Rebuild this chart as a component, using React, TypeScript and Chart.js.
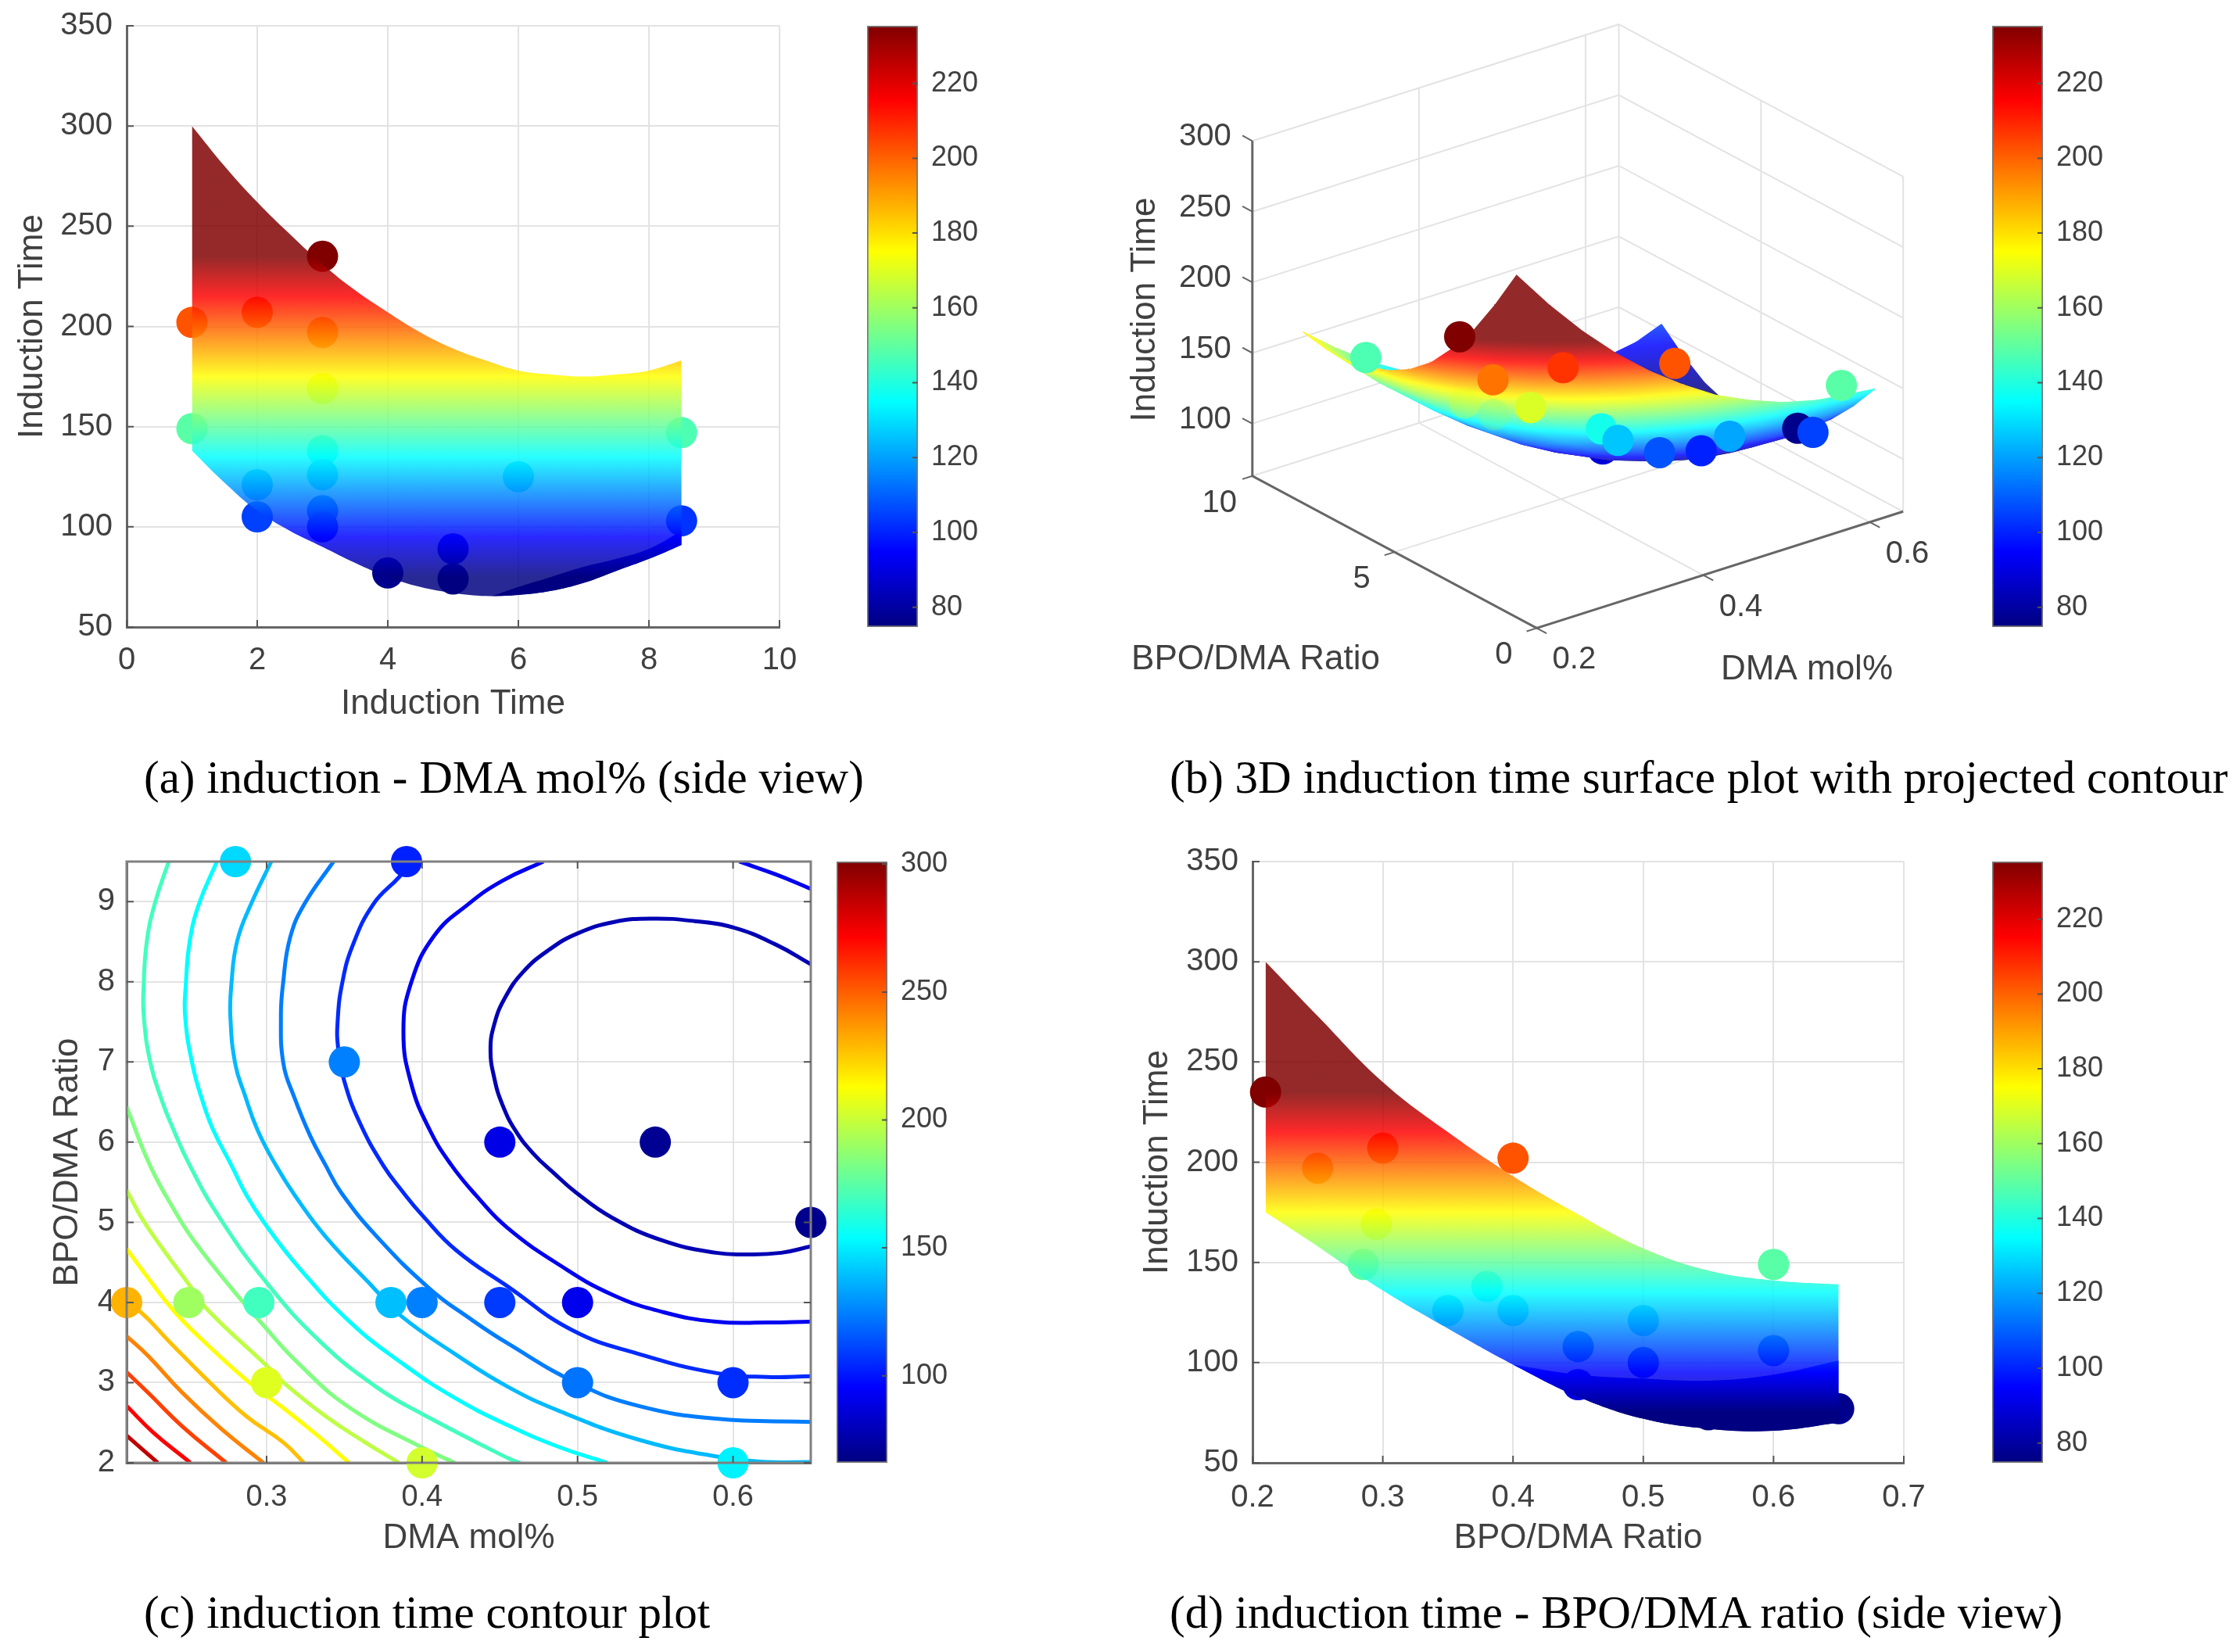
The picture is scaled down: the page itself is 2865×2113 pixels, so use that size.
import { useEffect, useRef } from "react";
import { Chart, registerables } from "chart.js";

Chart.register(...registerables);
Chart.defaults.font.family = '"Liberation Sans", Arial, sans-serif';

// (a) side view, time against ratio
const ratioA = [1, 1, 2, 2, 2, 3, 3, 3, 3, 3, 3, 3, 4, 5, 5, 6, 8.5, 8.5];
const timeA = [202, 149, 207, 121, 105, 235, 197, 169, 138, 126, 108, 100, 77, 89, 74, 125, 147, 103];
const surfaceXA = [1, 1.5, 2, 2.5, 3, 3.5, 4, 4.5, 5, 5.5, 6, 6.5, 7, 7.5, 8, 8.5];
const surfaceTopA = [300, 280, 262, 246, 231, 218, 207, 197, 189, 183, 178, 176, 175, 176, 178, 183];
const surfaceLowA = [138, 122, 108, 98, 90, 82, 75, 70, 67, 65.5, 66, 68, 72, 78, 84, 91];
const foldXA = [5.6, 6, 6.5, 7, 7.5, 8, 8.5];
const foldTopA = [65.5, 70, 75, 80, 84, 89, 98];
const foldLowA = [65.5, 66, 68, 72, 78, 84, 91];

// (d) side view, time against DMA
const dmaD = [0.21, 0.25, 0.3, 0.4, 0.295, 0.285, 0.38, 0.35, 0.4, 0.5, 0.45, 0.5, 0.6, 0.45, 0.55, 0.65, 0.6];
const timeD = [235, 197, 207, 202, 169, 149, 138, 126, 126, 121, 108, 100, 106, 89, 74, 77, 149];
const surfaceXD = [0.21, 0.25, 0.3, 0.35, 0.4, 0.45, 0.5, 0.55, 0.6, 0.65];
const surfaceTopD = [300, 273, 240, 215, 193, 174, 157, 146, 141, 139];
const surfaceLowD = [175, 158, 136, 117, 99, 83, 72, 67, 66, 70];
const foldXD = [0.4, 0.45, 0.5, 0.55, 0.6, 0.65];
const foldTopD = [99, 94, 92, 91, 94, 101];
const foldLowD = [99, 83, 72, 67, 66, 70];

// (c) contour plot, colour value of each dot
const dmaC = [0.28, 0.39, 0.35, 0.45, 0.55, 0.65, 0.21, 0.25, 0.295, 0.38, 0.4, 0.45, 0.5, 0.3, 0.5, 0.6, 0.4, 0.6];
const ratioC = [9.5, 9.5, 7, 6, 6, 5, 4, 4, 4, 4, 4, 4, 4, 3, 3, 3, 2, 2];
const colourC = [129, 100, 115, 91, 78, 77, 187, 160, 145, 125, 115, 104, 92, 170, 113, 102, 168, 133];
const contourLevels = [78, 92, 105, 124, 138, 154, 169, 183, 197, 212, 227, 241, 256, 271, 285];
const contours: [number, number][][] = [
  [[0.65, 8.22], [0.6275, 8.465], [0.6007, 8.675], [0.5755, 8.756], [0.5487, 8.789], [0.5236, 8.747], [0.5, 8.604], [0.4817, 8.4], [0.465, 8.124], [0.4533, 7.8], [0.4465, 7.475], [0.444, 7.15], [0.4465, 6.795], [0.4516, 6.47], [0.46, 6.146], [0.4717, 5.854], [0.485, 5.61], [0.4985, 5.38], [0.522, 5.06], [0.555, 4.77], [0.589, 4.62], [0.609, 4.6], [0.631, 4.62], [0.65, 4.7]],
  [[0.478, 9.5], [0.4516, 9.26], [0.4298, 8.97], [0.408, 8.58], [0.393, 7.99], [0.388, 7.38], [0.393, 6.73], [0.405, 6.15], [0.419, 5.71], [0.435, 5.33], [0.455, 4.93], [0.489, 4.46], [0.522, 4.1], [0.555, 3.88], [0.589, 3.76], [0.622, 3.75], [0.65, 3.76]],
  [[0.393, 9.5], [0.3854, 9.31], [0.3687, 8.97], [0.3553, 8.45], [0.3486, 7.98], [0.3457, 7.51], [0.346, 7.18], [0.35, 6.76], [0.36, 6.24], [0.375, 5.71], [0.388, 5.37], [0.4, 5.09], [0.422, 4.65], [0.455, 4.2], [0.497, 3.65], [0.539, 3.36], [0.589, 3.12], [0.622, 3.07], [0.65, 3.08]],
  [[0.343, 9.5], [0.3243, 8.97], [0.3151, 8.55], [0.3106, 7.98], [0.3092, 7.57], [0.3109, 6.97], [0.3176, 6.57], [0.328, 6.08], [0.338, 5.71], [0.348, 5.37], [0.371, 4.82], [0.405, 4.17], [0.43, 3.81], [0.455, 3.49], [0.5, 2.99], [0.539, 2.71], [0.589, 2.55], [0.65, 2.51]],
  [[0.303, 9.5], [0.29, 8.97], [0.2811, 8.51], [0.2774, 7.98], [0.2767, 7.57], [0.2799, 6.97], [0.2858, 6.6], [0.2942, 6.15], [0.306, 5.71], [0.318, 5.34], [0.338, 4.82], [0.368, 4.2], [0.386, 3.84], [0.421, 3.36], [0.455, 2.95], [0.489, 2.64], [0.539, 2.29], [0.589, 2.08], [0.622, 2.01], [0.65, 2.01]],
  [[0.268, 9.5], [0.2565, 8.97], [0.2506, 8.51], [0.2481, 7.98], [0.2476, 7.57], [0.2523, 6.97], [0.259, 6.5], [0.2657, 6.15], [0.2774, 5.71], [0.287, 5.34], [0.299, 4.98], [0.321, 4.43], [0.354, 3.75], [0.388, 3.23], [0.421, 2.81], [0.455, 2.47], [0.489, 2.19], [0.519, 2.0]],
  [[0.237, 9.5], [0.228, 8.97], [0.223, 8.51], [0.221, 7.98], [0.221, 7.57], [0.2255, 6.97], [0.233, 6.5], [0.2389, 6.21], [0.2506, 5.71], [0.269, 5.08], [0.299, 4.27], [0.334, 3.52], [0.371, 2.94], [0.4, 2.61], [0.455, 2.06], [0.463, 2.0]],
  [[0.21, 6.44], [0.225, 5.71], [0.241, 5.14], [0.254, 4.75], [0.282, 4.07], [0.295, 3.78], [0.321, 3.23], [0.354, 2.68], [0.4, 2.19], [0.421, 2.0]],
  [[0.21, 5.4], [0.222, 4.98], [0.251, 4.2], [0.262, 3.91], [0.299, 3.23], [0.311, 3.0], [0.338, 2.58], [0.363, 2.26], [0.385, 2.0]],
  [[0.21, 4.67], [0.224, 4.3], [0.241, 3.88], [0.261, 3.49], [0.289, 3.0], [0.311, 2.68], [0.334, 2.32], [0.353, 2.0]],
  [[0.21, 3.97], [0.219, 3.88], [0.237, 3.52], [0.262, 3.03], [0.287, 2.58], [0.311, 2.25], [0.324, 2.0]],
  [[0.21, 3.58], [0.224, 3.33], [0.246, 2.87], [0.271, 2.42], [0.298, 2.0]],
  [[0.21, 3.13], [0.224, 2.87], [0.246, 2.45], [0.274, 2.0]],
  [[0.21, 2.71], [0.227, 2.38], [0.251, 2.0]],
  [[0.21, 2.34], [0.23, 2.0]],
];
const contourExtra: [number, number][] = [[0.604, 9.5], [0.6275, 9.34], [0.65, 9.16]];

// (b) 3D view
const dmaFrontB = [0.21, 0.25, 0.3, 0.4, 0.295, 0.38, 0.4, 0.45, 0.5, 0.5, 0.65, 0.6, 0.6, 0.285];
const ratioFrontB = [3, 3, 2, 1, 3, 3, 3, 3, 3, 2, 4, 2, 1, 8.5];
const timeFrontB = [235, 197, 207, 202, 169, 138, 126, 108, 100, 121, 77, 105, 149, 147];
const dmaFaintB = [0.285, 0.25];
const ratioFaintB = [4, 4];
const timeFaintB = [155, 170];
const dmaUnderB = [0.45, 0.35, 0.55];
const ratioUnderB = [5, 6, 5];
const timeUnderB = [89, 125, 74];
const gridDma = [0.21, 0.25, 0.29, 0.33, 0.37, 0.41, 0.45, 0.49, 0.53, 0.57, 0.61, 0.64];
const gridRatio = [1, 1.75, 2.5, 3.25, 4, 4.75, 5.5, 6.25, 7, 7.75, 8.5];
const gridTime = [
  [300, 271, 245, 222, 202, 185, 170, 159, 150, 144, 141, 139],
  [271, 243, 217, 195, 175, 159, 145, 134, 126, 121, 119, 119],
  [245, 218, 193, 171, 153, 137, 124, 113, 106, 102, 100, 102],
  [224, 197, 173, 152, 134, 119, 106, 97, 90, 87, 86, 88],
  [206, 180, 157, 137, 119, 105, 93, 84, 78, 75, 75, 78],
  [193, 168, 145, 126, 109, 95, 84, 76, 71, 68, 69, 72],
  [184, 159, 137, 118, 102, 89, 79, 71, 67, 65, 66, 70],
  [179, 155, 133, 115, 100, 87, 78, 71, 67, 66, 68, 73],
  [175, 152, 133, 116, 101, 89, 81, 75, 71, 71, 74, 79],
  [176, 155, 137, 121, 107, 96, 87, 82, 79, 80, 83, 90],
  [179, 160, 143, 129, 116, 106, 98, 94, 92, 93, 97, 104],
];
const timeTicksB = [100, 150, 200, 250, 300];
const ratioTicksB = [0, 5, 10];
const dmaTicksB = [0.2, 0.4, 0.6];

// tick lists
const xTicksA = [0, 2, 4, 6, 8, 10];
const yTicksSide = [50, 100, 150, 200, 250, 300, 350];
const xTicksC = [0.3, 0.4, 0.5, 0.6];
const yTicksC = [2, 3, 4, 5, 6, 7, 8, 9];
const xTicksD = [0.2, 0.3, 0.4, 0.5, 0.6, 0.7];
const barTicks = [80, 100, 120, 140, 160, 180, 200, 220];
const barTicksC = [100, 150, 200, 250, 300];

const TEXT = "#404040";
const AXIS = "#666666";
const GRID = "#e3e3e3";
const TITLE_SIZE = 44;
const SURFACE_ALPHA = 0.84;

const clamp = (v: number) => Math.max(0, Math.min(1, v));
function jet(f: number, alpha = 1) {
  const t = 4 * clamp(f);
  const r = clamp(1.5 - Math.abs(t - 3));
  const g = clamp(1.5 - Math.abs(t - 2));
  const b = clamp(1.5 - Math.abs(t - 1));
  return `rgba(${Math.round(r * 255)},${Math.round(g * 255)},${Math.round(b * 255)},${alpha})`;
}
const jet75 = (v: number, alpha = 1) => jet((v - 75) / 160, alpha);
const jet66 = (v: number, alpha = 1) => jet((v - 66) / 234, alpha);

// same jet colour laid on white, for the opaque cells of the 3D surface
function paleJet(v: number) {
  const f = (v - 75) / 160;
  const t = 4 * clamp(f);
  const mix = (c: number) => Math.round((clamp(c) * 0.84 + 0.16) * 255);
  return `rgb(${mix(1.5 - Math.abs(t - 3))},${mix(1.5 - Math.abs(t - 2))},${mix(1.5 - Math.abs(t - 1))})`;
}

// jet ramp laid along the y axis of a chart, between two data values
function rampFill(lo: number, hi: number, alpha: number) {
  return (c: any) => {
    const { ctx, scales } = c.chart;
    const y0 = scales.y?.getPixelForValue(lo);
    const y1 = scales.y?.getPixelForValue(hi);
    if (!Number.isFinite(y0) || !Number.isFinite(y1)) return "transparent";
    const grad = ctx.createLinearGradient(0, y0, 0, y1);
    for (let i = 0; i <= 16; i++) grad.addColorStop(i / 16, jet(i / 16, alpha));
    return grad;
  };
}

// keep the plot box exactly where it was measured
const noScalePadding = (s: any) => {
  s.paddingTop = 0;
  s.paddingBottom = 0;
  s.paddingLeft = 0;
  s.paddingRight = 0;
};

// inward MATLAB-style tick marks and optional dark frame
const axisMarks = {
  id: "axisMarks",
  afterDraw(chart: any, _args: any, opts: any) {
    const { ctx, chartArea: a, scales } = chart;
    ctx.save();
    ctx.strokeStyle = "#555555";
    ctx.lineWidth = 2;
    const len = opts.len ?? 9;
    if (opts.frame) {
      ctx.strokeStyle = opts.frame;
      ctx.lineWidth = 3;
      ctx.strokeRect(a.left, a.top, a.right - a.left, a.bottom - a.top);
      ctx.strokeStyle = "#555555";
      ctx.lineWidth = 2;
    }
    ctx.beginPath();
    if (scales.y && !opts.rightOnly) {
      for (const t of scales.y.ticks) {
        const p = scales.y.getPixelForValue(t.value);
        ctx.moveTo(a.left, p);
        ctx.lineTo(a.left + len, p);
        if (opts.both) {
          ctx.moveTo(a.right, p);
          ctx.lineTo(a.right - len, p);
        }
      }
    }
    if (scales.y && opts.rightOnly) {
      for (const t of scales.y.ticks) {
        const p = scales.y.getPixelForValue(t.value);
        ctx.moveTo(a.right, p);
        ctx.lineTo(a.right - len, p);
      }
    }
    if (scales.x && !opts.rightOnly) {
      for (const t of scales.x.ticks) {
        const p = scales.x.getPixelForValue(t.value);
        ctx.moveTo(p, a.bottom);
        ctx.lineTo(p, a.bottom - len);
        if (opts.both) {
          ctx.moveTo(p, a.top);
          ctx.lineTo(p, a.top + len);
        }
      }
    }
    ctx.stroke();
    ctx.restore();
  },
};

// free text for the 3D axes, placed through the hidden scales
const freeText = {
  id: "freeText",
  afterDraw(chart: any, _args: any, opts: any) {
    const { ctx, scales } = chart;
    for (const l of opts.items || []) {
      ctx.save();
      ctx.translate(scales.x.getPixelForValue(l.u), scales.y.getPixelForValue(l.v));
      if (l.rotate) ctx.rotate(l.rotate);
      ctx.font = `${l.size}px "Liberation Sans", Arial, sans-serif`;
      ctx.fillStyle = TEXT;
      ctx.textAlign = l.align || "center";
      ctx.textBaseline = "middle";
      ctx.fillText(l.text, 0, 0);
      ctx.restore();
    }
  },
};

const pairs = (xs: number[], ys: number[]) => xs.map((x, i) => ({ x, y: ys[i] }));

function dots(xs: number[], ys: number[], colours: string[]) {
  return {
    data: pairs(xs, ys),
    pointBackgroundColor: colours,
    pointBorderWidth: 0,
    pointRadius: 20,
    clip: false,
  };
}

function edge(xs: number[], ys: number[], fill: any, backgroundColor?: any) {
  return {
    data: pairs(xs, ys),
    showLine: true,
    tension: 0.4,
    pointRadius: 0,
    borderWidth: 0,
    borderColor: "transparent",
    fill,
    backgroundColor,
  };
}

function sideConfig(p: {
  left: number;
  right: number;
  top: number;
  bottom: number;
  xMin: number;
  xMax: number;
  xTicks: number[];
  xTitle: string;
  xTitlePad: number;
  yTitlePad: number;
  xTickPad: number;
  datasets: any[];
}) {
  return {
    type: "scatter",
    data: { datasets: p.datasets },
    plugins: [axisMarks],
    options: {
      responsive: false,
      animation: false,
      devicePixelRatio: 1,
      events: [],
      layout: { autoPadding: false, padding: { top: p.top, right: p.right, left: 0, bottom: 0 } },
      plugins: { legend: { display: false }, tooltip: { enabled: false }, filler: { drawTime: "beforeDatasetDraw" }, axisMarks: {} },
      scales: {
        x: {
          type: "linear",
          min: p.xMin,
          max: p.xMax,
          afterBuildTicks: (s: any) => (s.ticks = p.xTicks.map((value) => ({ value }))),
          afterFit: (s: any) => {
            s.height = p.bottom;
            noScalePadding(s);
          },
          grid: { color: GRID, lineWidth: 2, drawTicks: false },
          border: { color: AXIS, width: 3 },
          ticks: { color: TEXT, font: { size: 40 }, padding: p.xTickPad, maxRotation: 0, autoSkip: false, callback: (v: number) => String(v) },
          title: { display: true, text: p.xTitle, color: TEXT, font: { size: TITLE_SIZE, lineHeight: 1.2 }, padding: { top: 0, bottom: p.xTitlePad } },
        },
        y: {
          type: "linear",
          min: 50,
          max: 350,
          afterBuildTicks: (s: any) => (s.ticks = yTicksSide.map((value) => ({ value }))),
          afterFit: (s: any) => {
            s.width = p.left;
            noScalePadding(s);
          },
          grid: { color: GRID, lineWidth: 2, drawTicks: false },
          border: { color: AXIS, width: 3 },
          ticks: { color: TEXT, font: { size: 40 }, padding: 18, autoSkip: false, callback: (v: number) => String(v) },
          title: { display: true, text: "Induction Time", color: TEXT, font: { size: TITLE_SIZE, lineHeight: 1.2 }, padding: { top: p.yTitlePad, bottom: 0 } },
        },
      },
    },
  };
}

const configA = () =>
  sideConfig({
    left: 162,
    right: 53,
    top: 33,
    bottom: 148,
    xMin: 0,
    xMax: 10,
    xTicks: xTicksA,
    xTitle: "Induction Time",
    xTitlePad: 23,
    yTitlePad: 15,
    xTickPad: 19,
    datasets: [
      edge(foldXA, foldTopA, "+1", rampFill(75, 235, 1)),
      edge(foldXA, foldLowA, false),
      edge(surfaceXA, surfaceTopA, "+1", rampFill(75, 235, SURFACE_ALPHA)),
      edge(surfaceXA, surfaceLowA, false),
      dots(ratioA, timeA, timeA.map((t) => jet75(t))),
    ],
  });

const configD = () =>
  sideConfig({
    left: 182,
    right: 85,
    top: 52,
    bottom: 179,
    xMin: 0.2,
    xMax: 0.7,
    xTicks: xTicksD,
    xTitle: "BPO/DMA Ratio",
    xTitlePad: 56,
    yTitlePad: 34,
    xTickPad: 21,
    datasets: [
      edge(foldXD, foldTopD, "+1", rampFill(75, 235, 1)),
      edge(foldXD, foldLowD, false),
      edge(surfaceXD, surfaceTopD, "+1", rampFill(75, 235, SURFACE_ALPHA)),
      edge(surfaceXD, surfaceLowD, false),
      dots(dmaD, timeD, timeD.map((t) => jet75(t))),
    ],
  });

function configC() {
  const lines = contours.map((line, i) => ({
    data: line.map(([x, y]) => ({ x, y })),
    showLine: true,
    tension: 0.45,
    pointRadius: 0,
    borderWidth: 5,
    borderColor: jet66(contourLevels[i]),
    fill: false,
  }));
  const extra = {
    data: contourExtra.map(([x, y]) => ({ x, y })),
    showLine: true,
    tension: 0.45,
    pointRadius: 0,
    borderWidth: 5,
    borderColor: jet66(contourLevels[1]),
    fill: false,
  };
  return {
    type: "scatter",
    data: { datasets: [dots(dmaC, ratioC, colourC.map((t) => jet75(t))), extra, ...lines] },
    plugins: [axisMarks],
    options: {
      responsive: false,
      animation: false,
      devicePixelRatio: 1,
      events: [],
      layout: { autoPadding: false, padding: { top: 52, right: 28, left: 0, bottom: 0 } },
      plugins: { legend: { display: false }, tooltip: { enabled: false }, axisMarks: { frame: "#808080", both: true } },
      scales: {
        x: {
          type: "linear",
          min: 0.21,
          max: 0.65,
          afterBuildTicks: (s: any) => (s.ticks = xTicksC.map((value) => ({ value }))),
          afterFit: (s: any) => {
            s.height = 179;
            noScalePadding(s);
          },
          grid: { color: GRID, lineWidth: 2, drawTicks: false },
          border: { color: AXIS, width: 3 },
          ticks: { color: TEXT, font: { size: 38 }, padding: 22, maxRotation: 0, autoSkip: false, callback: (v: number) => String(v) },
          title: { display: true, text: "DMA mol%", color: TEXT, font: { size: TITLE_SIZE, lineHeight: 1.2 }, padding: { top: 0, bottom: 56 } },
        },
        y: {
          type: "linear",
          min: 2,
          max: 9.5,
          afterBuildTicks: (s: any) => (s.ticks = yTicksC.map((value) => ({ value }))),
          afterFit: (s: any) => {
            s.width = 162;
            noScalePadding(s);
          },
          grid: { color: GRID, lineWidth: 2, drawTicks: false },
          border: { color: AXIS, width: 3 },
          ticks: { color: TEXT, font: { size: 40 }, padding: 15, autoSkip: false, callback: (v: number) => String(v) },
          title: { display: true, text: "BPO/DMA Ratio", color: TEXT, font: { size: TITLE_SIZE, lineHeight: 1.2 }, padding: { top: 60, bottom: 0 } },
        },
      },
    },
  };
}

// projection of (DMA, ratio, time) on the page plane of panel (b)
const project = (d: number, r: number, t: number) => ({
  x: 1965.4 + (d - 0.2) * 1065.4 - r * 36.36,
  y: 803.4 - (d - 0.2) * 338.9 - r * 19.46 - (t - 63) * 1.808,
});

function wire(points: [number, number, number][], color: string, width: number) {
  return {
    data: points.map(([d, r, t]) => project(d, r, t)),
    showLine: true,
    pointRadius: 0,
    borderWidth: width,
    borderColor: color,
    fill: false,
  };
}

// one surface triangle; its time varies linearly over the plane, so a linear
// gradient along that direction joins up with the neighbouring triangles
function triangle(corners: [number, number][]) {
  const verts = corners.map(([a, b]) => ({
    z: gridTime[a][b],
    ...project(gridDma[b], gridRatio[a], gridTime[a][b]),
  }));
  const [p, q, s] = verts;
  const det = (q.x - p.x) * (s.y - p.y) - (s.x - p.x) * (q.y - p.y);
  const gx = ((q.z - p.z) * (s.y - p.y) - (s.z - p.z) * (q.y - p.y)) / det;
  const gy = ((s.z - p.z) * (q.x - p.x) - (q.z - p.z) * (s.x - p.x)) / det;
  const g2 = gx * gx + gy * gy;
  const low = verts.reduce((m, v) => (v.z < m.z ? v : m));
  const high = verts.reduce((m, v) => (v.z > m.z ? v : m));
  const span = high.z - low.z;
  const paint = (c: any) => {
    const { ctx, scales } = c.chart;
    if (!Number.isFinite(g2) || g2 < 1e-9 || span < 1e-6) return paleJet(low.z);
    const x0 = scales.x?.getPixelForValue(low.x);
    const y0 = scales.y?.getPixelForValue(low.y);
    const x1 = scales.x?.getPixelForValue(low.x + (gx * span) / g2);
    const y1 = scales.y?.getPixelForValue(low.y + (gy * span) / g2);
    if (![x0, y0, x1, y1].every(Number.isFinite)) return "transparent";
    const grad = ctx.createLinearGradient(x0, y0, x1, y1);
    for (let i = 0; i <= 6; i++) grad.addColorStop(i / 6, paleJet(low.z + (span * i) / 6));
    return grad;
  };
  return {
    data: [...verts, verts[0]].map((v) => ({ x: v.x, y: v.y })),
    showLine: true,
    pointRadius: 0,
    borderWidth: 1.2,
    borderColor: paint,
    fill: "shape",
    backgroundColor: paint,
  };
}

function configB() {
  const DMA_LO = 0.2;
  const DMA_HI = 0.64;
  const T_LO = 63;
  const bottomUp: any[] = [];
  // back walls and floor
  for (const t of [T_LO, ...timeTicksB]) {
    bottomUp.push(wire([[DMA_LO, 10, t], [DMA_HI, 10, t], [DMA_HI, 0, t]], GRID, 2));
  }
  for (const d of [0.4, 0.6]) {
    bottomUp.push(wire([[d, 10, 300], [d, 10, T_LO], [d, 0, T_LO]], GRID, 2));
  }
  bottomUp.push(wire([[DMA_HI, 10, 300], [DMA_HI, 10, T_LO]], GRID, 2));
  bottomUp.push(wire([[DMA_HI, 0, 300], [DMA_HI, 0, T_LO]], GRID, 2));
  bottomUp.push(wire([[DMA_HI, 5, 300], [DMA_HI, 5, T_LO], [DMA_LO, 5, T_LO]], GRID, 2));
  // axes
  bottomUp.push(wire([[DMA_LO, 10, 300], [DMA_LO, 10, T_LO], [DMA_LO, 0, T_LO], [DMA_HI, 0, T_LO]], AXIS, 3));
  for (const t of timeTicksB) bottomUp.push(wire([[DMA_LO, 10, t], [DMA_LO, 10.35, t]], AXIS, 2));
  for (const r of ratioTicksB) bottomUp.push(wire([[DMA_LO, r, T_LO], [DMA_LO - 0.012, r, T_LO]], AXIS, 2));
  for (const d of dmaTicksB) bottomUp.push(wire([[d, 0, T_LO], [d, -0.35, T_LO]], AXIS, 2));

  const pointsOf = (ds: number[], rs: number[], ts: number[], alpha: number) => ({
    data: ds.map((d, i) => project(d, rs[i], ts[i])),
    pointBackgroundColor: ts.map((t) => jet75(t, alpha)),
    pointBorderWidth: 0,
    pointRadius: 20,
  });

  bottomUp.push(pointsOf(dmaUnderB, ratioUnderB, timeUnderB, 1));

  // far cells first
  for (let i = gridRatio.length - 2; i >= 0; i--) {
    for (let j = gridDma.length - 2; j >= 0; j--) {
      bottomUp.push(triangle([[i + 1, j + 1], [i + 1, j], [i, j + 1]]));
      bottomUp.push(triangle([[i, j + 1], [i + 1, j], [i, j]]));
    }
  }
  // dots just under the surface show through it faintly
  bottomUp.push(pointsOf(dmaFaintB, ratioFaintB, timeFaintB, 0.3));
  bottomUp.push(pointsOf(dmaFrontB, ratioFrontB, timeFrontB, 1));

  const items: any[] = [];
  for (const t of timeTicksB) {
    const p = project(DMA_LO, 10, t);
    items.push({ text: String(t), u: p.x - 27, v: p.y - 5, align: "right", size: 40 });
  }
  for (const r of ratioTicksB) {
    const p = project(DMA_LO, r, T_LO);
    items.push({ text: String(r), u: p.x - 42, v: p.y + 35, size: 40 });
  }
  for (const d of dmaTicksB) {
    const p = project(d, 0, T_LO);
    items.push({ text: d.toFixed(1), u: p.x + 48, v: p.y + 41, size: 40 });
  }
  items.push({ text: "Induction Time", u: 1465, v: 396, rotate: -Math.PI / 2, size: TITLE_SIZE });
  items.push({ text: "BPO/DMA Ratio", u: 1606, v: 844, size: TITLE_SIZE });
  items.push({ text: "DMA mol%", u: 2311, v: 857, size: TITLE_SIZE });

  return {
    type: "scatter",
    data: { datasets: bottomUp.reverse() },
    plugins: [freeText],
    options: {
      responsive: false,
      animation: false,
      devicePixelRatio: 1,
      events: [],
      layout: { autoPadding: false },
      plugins: { legend: { display: false }, tooltip: { enabled: false }, freeText: { items } },
      scales: {
        x: { type: "linear", display: false, min: 1420, max: 2520 },
        y: { type: "linear", display: false, min: 0, max: 1000, reverse: true },
      },
    },
  };
}

function barConfig(lo: number, hi: number, ticks: number[], top: number, labelRoom: number) {
  return {
    type: "bar",
    data: {
      labels: [""],
      datasets: [
        {
          data: [[lo, hi]],
          backgroundColor: rampFill(lo, hi, 1),
          borderColor: "#777777",
          borderWidth: 2,
          borderSkipped: false,
          barPercentage: 1,
          categoryPercentage: 1,
        },
      ],
    },
    plugins: [axisMarks],
    options: {
      responsive: false,
      animation: false,
      devicePixelRatio: 1,
      events: [],
      layout: { autoPadding: false, padding: { top, bottom: 1, left: 1, right: 0 } },
      plugins: { legend: { display: false }, tooltip: { enabled: false }, axisMarks: { rightOnly: true, len: 7 } },
      scales: {
        x: { display: false },
        y: {
          position: "right",
          min: lo,
          max: hi,
          afterBuildTicks: (s: any) => (s.ticks = ticks.map((value) => ({ value }))),
          afterFit: (s: any) => {
            s.width = labelRoom;
            noScalePadding(s);
          },
          grid: { display: false, drawTicks: false },
          border: { display: false },
          ticks: { color: TEXT, font: { size: 36 }, padding: 17, autoSkip: false, callback: (v: number) => String(v) },
        },
      },
    },
  };
}

function ChartBox({ left, top, width, height, config }: { left: number; top: number; width: number; height: number; config: () => any }) {
  const canvasRef = useRef<HTMLCanvasElement>(null);
  useEffect(() => {
    if (!canvasRef.current) return;
    const chart = new Chart(canvasRef.current, config());
    // second pass so the gradients see the laid out scales
    chart.update();
    return () => chart.destroy();
  }, []);
  return <canvas ref={canvasRef} width={width} height={height} style={{ position: "absolute", left, top, width, height }} />;
}

function Caption({ left, top, text }: { left: number; top: number; text: string }) {
  return (
    <div style={{ position: "absolute", left, top, fontFamily: '"Liberation Serif", serif', fontSize: 59, lineHeight: "64px", color: "#000", whiteSpace: "nowrap" }}>
      {text}
    </div>
  );
}

export default function App() {
  return (
    <div style={{ position: "absolute", left: 0, top: 0, width: 2865, height: 2113, background: "#fff", overflow: "hidden" }}>
      <ChartBox left={0} top={0} width={1050} height={950} config={configA} />
      <ChartBox left={1420} top={0} width={1100} height={1000} config={configB} />
      <ChartBox left={0} top={1050} width={1065} height={1000} config={configC} />
      <ChartBox left={1420} top={1050} width={1100} height={1000} config={configD} />
      <ChartBox left={1108} top={0} width={170} height={803} config={() => barConfig(74.7, 235.4, barTicks, 33, 104)} />
      <ChartBox left={2547} top={0} width={170} height={803} config={() => barConfig(74.7, 235.4, barTicks, 33, 104)} />
      <ChartBox left={1069} top={1050} width={170} height={822} config={() => barConfig(66, 301, barTicksC, 52, 104)} />
      <ChartBox left={2547} top={1050} width={170} height={822} config={() => barConfig(74.7, 235.4, barTicks, 52, 104)} />
      <Caption left={184} top={962} text="(a) induction - DMA mol% (side view)" />
      <Caption left={1496} top={962} text="(b) 3D induction time surface plot with projected contour" />
      <Caption left={184} top={2030} text="(c) induction time contour plot" />
      <Caption left={1496} top={2030} text="(d) induction time - BPO/DMA ratio (side view)" />
    </div>
  );
}
